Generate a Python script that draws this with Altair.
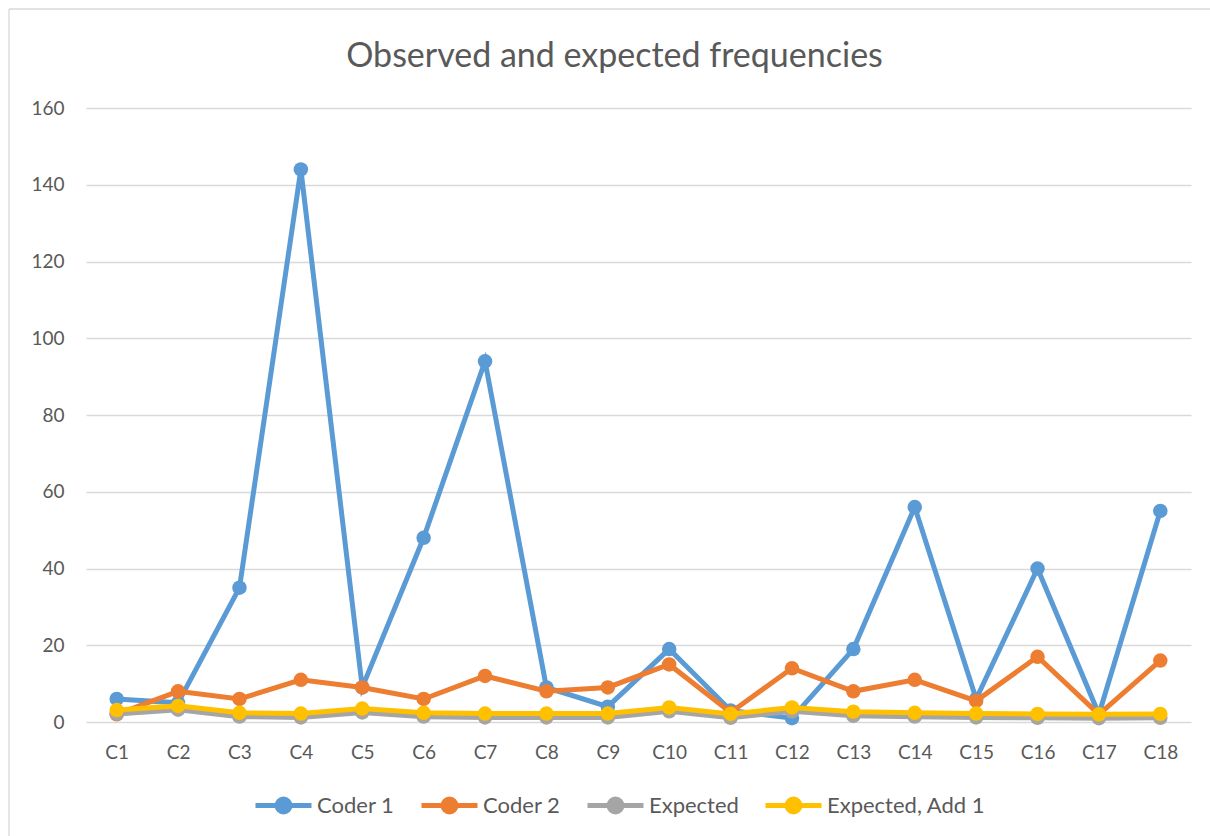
import altair as alt
import pandas as pd

categories = [f"C{i}" for i in range(1, 19)]
coder1 = [6, 5, 35, 144, 9, 48, 94, 9, 4, 19, 3, 1, 19, 56, 6, 40, 2, 55]
coder2 = [2, 8, 6, 11, 9, 6, 12, 8, 9, 15, 2.5, 14, 8, 11, 5.5, 17, 2, 16]
expected = [2.1, 3.2, 1.4, 1.2, 2.5, 1.4, 1.2, 1.2, 1.2, 2.8, 1.1, 2.8, 1.6, 1.4, 1.2, 1.1, 1.0, 1.1]
expected_add1 = [3.1, 4.2, 2.4, 2.2, 3.5, 2.4, 2.2, 2.2, 2.2, 3.8, 2.1, 3.8, 2.7, 2.4, 2.2, 2.1, 2.0, 2.1]

series_names = ["Coder 1", "Coder 2", "Expected", "Expected, Add 1"]
series_colors = ["#5B9BD5", "#ED7D31", "#A5A5A5", "#FFC000"]

rows = []
for name, vals in zip(series_names, [coder1, coder2, expected, expected_add1]):
    for c, v in zip(categories, vals):
        rows.append({"cat": c, "value": v, "series": name})
df = pd.DataFrame(rows)

FONT = "Lato"
TXT = "#595959"

r = 0.23
legend_path = (f"M-1,0L1,0M-{r},0A{r},{r},0,1,1,{r},0A{r},{r},0,1,1,-{r},0Z")

color = alt.Color(
    "series:N",
    scale=alt.Scale(domain=series_names, range=series_colors),
    legend=alt.Legend(
        title=None,
        orient="none",
        legendX=167,
        legendY=667,
        direction="horizontal",
        columns=4,
        symbolType=legend_path,
        symbolSize=3136,
        symbolStrokeWidth=5,
        labelFontSize=22,
        labelFont=FONT,
        labelColor=TXT,
        columnPadding=16,
        symbolOffset=0,
        labelOffset=3,
        labelLimit=300,
    ),
)

x = alt.X(
    "cat:N",
    sort=categories,
    scale=alt.Scale(domain=categories, type="point", padding=0.5),
    axis=alt.Axis(
        title=None, labelAngle=0, ticks=False, domain=False, grid=False,
        labelFontSize=19, labelFont=FONT, labelColor=TXT, labelPadding=21,
    ),
)
y = alt.Y(
    "value:Q",
    scale=alt.Scale(domain=[0, 160], nice=False),
    axis=alt.Axis(
        title=None, values=list(range(0, 161, 20)), ticks=False, domain=False,
        grid=True, gridColor="#D9D9D9", gridWidth=1.3,
        labelFontSize=19, labelFont=FONT, labelColor=TXT, labelPadding=22,
    ),
)

base = alt.Chart(df)
layers = []
for name in series_names:
    sub = base.transform_filter(alt.datum.series == name)
    layers.append(sub.mark_line(strokeWidth=5).encode(x=x, y=y, color=color))
    layers.append(
        sub.mark_point(filled=True, size=210, opacity=1).encode(x=x, y=y, color=color)
    )

# outer chart frame (decoration)
frame_df = pd.DataFrame({"k": [0]})
frame_v = alt.Chart(frame_df).mark_rule(color="#D9D9D9", strokeWidth=1.3).encode(
    x=alt.value(-77), y=alt.value(-99), y2=alt.value(740)
)
frame_h = alt.Chart(frame_df).mark_rule(color="#D9D9D9", strokeWidth=1.3).encode(
    x=alt.value(-77), x2=alt.value(1130), y=alt.value(-99)
)

chart = alt.layer(frame_v, frame_h, *layers).properties(
    width=1105,
    height=614,
    title=alt.Title(
        "Observed and expected frequencies",
        fontSize=34, font=FONT, fontWeight="normal", color=TXT,
        anchor="middle", dx=-24, offset=-66,
    ),
    autosize=alt.AutoSizeParams(type="none"),
    padding={"left": 86, "top": 108, "right": 19, "bottom": 114},
).configure(background="white").configure_view(stroke=None, strokeWidth=0)

chart.save("out.html", embed_options={"renderer": "svg", "actions": False})
